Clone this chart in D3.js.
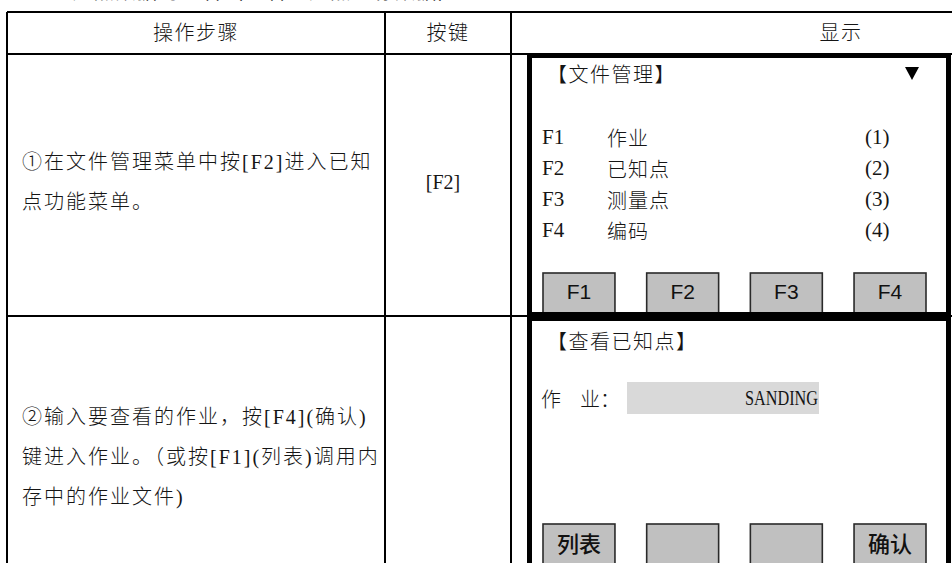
<!DOCTYPE html>
<html><head><meta charset="utf-8">
<script src="https://cdn.jsdelivr.net/npm/d3@7"></script>
<style>
html,body{margin:0;padding:0;background:#fff;}
svg{display:block;}
</style></head>
<body>
<svg id="c" width="952" height="563"></svg>
<script>
// ---- data ----
const topLine = "三、已知点数据的查看（查看已知点坐标数据）";
const headers = ["操作步骤", "按键", "显示"];
const stepLines = [
  ["①在文件管理菜单中按[F2]进入已知", "点功能菜单。"],
  ["②输入要查看的作业，按[F4](确认)", "键进入作业。（或按[F1](列表)调用内", "存中的作业文件)"]
];
const stepKeys = ["[F2]", ""];
const screenTitles = ["【文件管理】", "【查看已知点】"];
const menuKeys = ["F1", "F2", "F3", "F4"];
const menuNames = ["作业", "已知点", "测量点", "编码"];
const menuNums = ["(1)", "(2)", "(3)", "(4)"];
const softKeys1 = ["F1", "F2", "F3", "F4"];
const softKeys2 = ["列表", "", "", "确认"];
const fieldLabels = ["作", "业："];
const fieldValue = "SANDING";

// ---- layout ----
const svg = d3.select("#c");
const serif = "'Liberation Serif','Noto Sans CJK SC',serif";
const cjk = "'Noto Sans CJK SC',sans-serif";
const ink = "#151515";

const colX = [7, 385, 511, 1175];      // column boundaries (table continues past right edge)
const rowY = [12, 54, 316, 600];       // row boundaries

// clipped line above the table (only its lower edge is visible)
svg.append("text").attr("x", 8).attr("y", -1).attr("font-family", serif)
  .attr("font-size", 20).attr("letter-spacing", 1.5).attr("fill", ink).text(topLine);

// table grid
const g = svg.append("g");
rowY.forEach(y => {
  g.append("line").attr("x1", colX[0]).attr("x2", 960).attr("y1", y).attr("y2", y)
    .attr("stroke", "#000").attr("stroke-width", 2);
});
colX.forEach(x => {
  g.append("line").attr("x1", x).attr("x2", x).attr("y1", rowY[0]).attr("y2", 600)
    .attr("stroke", "#000").attr("stroke-width", 2);
});

// headers
const headerX = [196, 448, 841];
g.selectAll("text.h").data(headers).join("text").attr("class", "h")
  .attr("x", (d, i) => headerX[i]).attr("y", (rowY[0] + rowY[1]) / 2)
  .attr("text-anchor", "middle").attr("dominant-baseline", "central")
  .attr("font-family", serif).attr("font-size", 20).attr("font-weight", 300).attr("letter-spacing", 1.5)
  .attr("fill", ink).text(d => d);

// step text
const lineH = 40;
stepLines.forEach((lines, r) => {
  const cy = (rowY[r + 1] + rowY[r + 2]) / 2 + (r === 1 ? -1 : -3);
  const y0 = cy - (lines.length - 1) * lineH / 2;
  g.selectAll(null).data(lines).join("text")
    .attr("x", 22).attr("y", (d, i) => y0 + i * lineH)
    .attr("dominant-baseline", "central")
    .attr("font-family", serif).attr("font-size", 20).attr("font-weight", 300).attr("letter-spacing", 2)
    .attr("fill", ink).text(d => d);
  g.append("text").attr("x", 443).attr("y", cy)
    .attr("text-anchor", "middle").attr("dominant-baseline", "central")
    .attr("font-family", serif).attr("font-size", 20).attr("fill", ink).text(stepKeys[r]);
});

// screens
const scrX0 = 527, scrX1 = 951, bw = 5;
const screens = [[53, 317], [316, 600]];
screens.forEach(([y0, y1]) => {
  svg.append("rect").attr("x", scrX0).attr("y", y0).attr("width", scrX1 - scrX0).attr("height", y1 - y0)
    .attr("fill", "#fff");
});

const keyX = d3.scaleBand().domain(d3.range(4)).range([543, 926]).paddingInner(0.306);

function drawButtons(labels, yTop, font, size, weight) {
  const b = svg.append("g");
  b.selectAll("rect").data(labels).join("rect")
    .attr("x", (d, i) => keyX(i)).attr("y", yTop)
    .attr("width", keyX.bandwidth()).attr("height", 40)
    .attr("fill", "#c0c0c0").attr("stroke", "#2a2a2a").attr("stroke-width", 1.6);
  b.selectAll("text").data(labels).join("text")
    .attr("x", (d, i) => keyX(i) + keyX.bandwidth() / 2).attr("y", yTop + 18)
    .attr("text-anchor", "middle").attr("dominant-baseline", "central")
    .attr("font-family", font).attr("font-size", size).attr("font-weight", weight)
    .attr("fill", "#111").text(d => d);
}

// screen 1
svg.append("text").attr("x", 547).attr("y", 73).attr("dominant-baseline", "central")
  .attr("font-family", cjk).attr("font-size", 20).attr("font-weight", 300).attr("letter-spacing", 1.5).attr("fill", ink)
  .text(screenTitles[0]);
svg.append("path").attr("d", "M905,67 L919,67 L912,80 Z").attr("fill", "#000");

const menuY = d3.scalePoint().domain(menuKeys).range([137, 230]);
svg.selectAll("text.mk").data(menuKeys).join("text").attr("class", "mk")
  .attr("x", 542).attr("y", d => menuY(d)).attr("dominant-baseline", "central")
  .attr("font-family", serif).attr("font-size", 21).attr("fill", ink).text(d => d);
svg.selectAll("text.mn").data(menuNames).join("text").attr("class", "mn")
  .attr("x", 607).attr("y", (d, i) => menuY(menuKeys[i])).attr("dominant-baseline", "central")
  .attr("font-family", cjk).attr("font-size", 20).attr("font-weight", 300).attr("letter-spacing", 1).attr("fill", ink).text(d => d);
svg.selectAll("text.nn").data(menuNums).join("text").attr("class", "nn")
  .attr("x", 865).attr("y", (d, i) => menuY(menuKeys[i])).attr("dominant-baseline", "central")
  .attr("font-family", serif).attr("font-size", 21).attr("fill", ink).text(d => d);

drawButtons(softKeys1, 273, "'Liberation Sans',sans-serif", 21, 400);

// screen 2
svg.append("text").attr("x", 547).attr("y", 340).attr("dominant-baseline", "central")
  .attr("font-family", cjk).attr("font-size", 20).attr("font-weight", 300).attr("letter-spacing", 1.5).attr("fill", ink)
  .text(screenTitles[1]);
svg.selectAll("text.fl").data(fieldLabels).join("text").attr("class", "fl")
  .attr("x", (d, i) => i === 0 ? 541 : 580).attr("y", 398).attr("dominant-baseline", "central")
  .attr("font-family", cjk).attr("font-size", 20).attr("font-weight", 300).attr("fill", ink).text(d => d);
svg.append("rect").attr("x", 627).attr("y", 382).attr("width", 192).attr("height", 32).attr("fill", "#d9d9d9");
svg.append("text").attr("x", 818).attr("y", 398).attr("text-anchor", "end").attr("dominant-baseline", "central")
  .attr("font-family", serif).attr("font-size", 21)
  .attr("textLength", 73).attr("lengthAdjust", "spacingAndGlyphs")
  .attr("fill", ink).text(fieldValue);

drawButtons(softKeys2, 524, cjk, 22, 500);

// screen borders on top
screens.forEach(([y0, y1]) => {
  svg.append("rect").attr("x", scrX0 + bw / 2).attr("y", y0 + bw / 2)
    .attr("width", scrX1 - scrX0 - bw).attr("height", y1 - y0 - bw)
    .attr("fill", "none").attr("stroke", "#000").attr("stroke-width", bw);
});
</script>
</body></html>
